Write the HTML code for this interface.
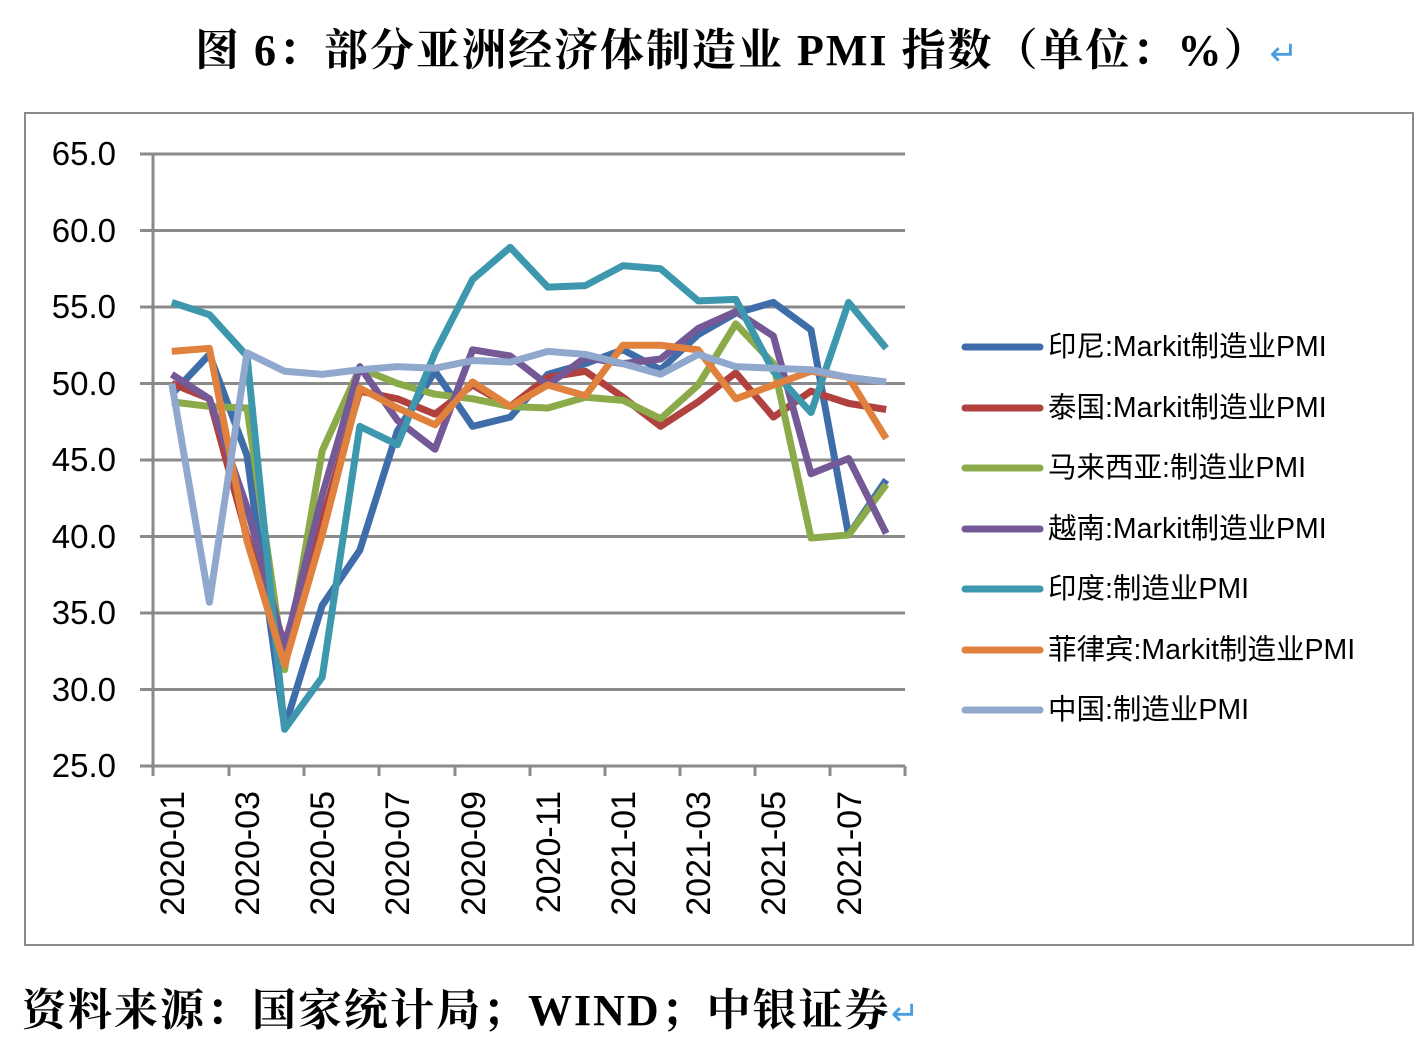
<!DOCTYPE html>
<html><head><meta charset="utf-8"><style>
body{margin:0;width:1420px;height:1042px;background:#fff;overflow:hidden;position:relative;font-family:"Liberation Sans","Noto Sans CJK SC",sans-serif}
.title{position:absolute;top:14px;left:195px;white-space:nowrap;font-family:"Liberation Serif","Noto Serif CJK SC",serif;font-weight:bold;font-size:44px;color:#000;letter-spacing:2px}
.foot{position:absolute;top:974px;left:22px;white-space:nowrap;font-family:"Liberation Serif","Noto Serif CJK SC",serif;font-weight:bold;font-size:44px;color:#000;letter-spacing:2px}
.arr{color:#4a9ee0;font-weight:normal;font-size:34px}
.box{position:absolute;left:24px;top:112px;width:1390px;height:834px;border:2px solid #8a8a8a;box-sizing:border-box}
</style></head><body>
<div class="title">图 6：部分亚洲经济体制造业 PMI 指数（单位：%）<span class="arr">↵</span></div>
<div class="box"></div>
<svg width="1420" height="1042" style="position:absolute;left:0;top:0">
<g stroke="#8a8a8a" stroke-width="3">
<line x1="140" y1="154" x2="905" y2="154"/><line x1="140" y1="230.5" x2="905" y2="230.5"/><line x1="140" y1="307" x2="905" y2="307"/><line x1="140" y1="383.5" x2="905" y2="383.5"/><line x1="140" y1="460" x2="905" y2="460"/><line x1="140" y1="536.5" x2="905" y2="536.5"/><line x1="140" y1="613" x2="905" y2="613"/><line x1="140" y1="689.5" x2="905" y2="689.5"/><line x1="140" y1="766" x2="905" y2="766"/>
<line x1="153" y1="154" x2="153" y2="776"/>
<line x1="229" y1="766" x2="229" y2="776"/><line x1="304" y1="766" x2="304" y2="776"/><line x1="379" y1="766" x2="379" y2="776"/><line x1="455" y1="766" x2="455" y2="776"/><line x1="530" y1="766" x2="530" y2="776"/><line x1="605" y1="766" x2="605" y2="776"/><line x1="680" y1="766" x2="680" y2="776"/><line x1="755" y1="766" x2="755" y2="776"/><line x1="830" y1="766" x2="830" y2="776"/><line x1="905" y1="766" x2="905" y2="776"/>
</g>
<g font-size="33" text-anchor="end" fill="#000" font-family="Liberation Sans,sans-serif">
<text x="116" y="165">65.0</text><text x="116" y="242">60.0</text><text x="116" y="318">55.0</text><text x="116" y="395">50.0</text><text x="116" y="471">45.0</text><text x="116" y="548">40.0</text><text x="116" y="624">35.0</text><text x="116" y="701">30.0</text><text x="116" y="777">25.0</text>
</g>
<g font-size="34" text-anchor="end" fill="#000" font-family="Liberation Sans,sans-serif">
<text transform="translate(184,791) rotate(-90)">2020-01</text>
<text transform="translate(259,791) rotate(-90)">2020-03</text>
<text transform="translate(334,791) rotate(-90)">2020-05</text>
<text transform="translate(409,791) rotate(-90)">2020-07</text>
<text transform="translate(485,791) rotate(-90)">2020-09</text>
<text transform="translate(560,791) rotate(-90)">2020-11</text>
<text transform="translate(635,791) rotate(-90)">2021-01</text>
<text transform="translate(710,791) rotate(-90)">2021-03</text>
<text transform="translate(785,791) rotate(-90)">2021-05</text>
<text transform="translate(861,791) rotate(-90)">2021-07</text>
</g>
<g transform="matrix(37.6 0 0 -15.3 171.8 1148.5)" fill="none" stroke-width="7" stroke-linejoin="round">
<polyline vector-effect="non-scaling-stroke" stroke="#3F6DAA" points="0,49.3 1,51.9 2,45.3 3,27.5 4,35.5 5,39.1 6,46.9 7,50.8 8,47.2 9,47.8 10,50.6 11,51.3 12,52.2 13,50.9 14,53.2 15,54.6 16,55.3 17,53.5 18,40.1 19,43.7"/>
<polyline vector-effect="non-scaling-stroke" stroke="#B0413E" points="0,50.0 1,49.0 2,40.0 3,33 4,41 5,49.5 6,49 7,48 8,49.9 9,48.5 10,50.4 11,50.8 12,49.1 13,47.2 14,48.8 15,50.7 16,47.8 17,49.5 18,48.7 19,48.3"/>
<polyline vector-effect="non-scaling-stroke" stroke="#8BAA4A" points="0,48.8 1,48.5 2,48.4 3,31.3 4,45.6 5,51.0 6,50.0 7,49.3 8,49.0 9,48.5 10,48.4 11,49.1 12,48.9 13,47.7 14,49.9 15,53.9 16,51.3 17,39.9 18,40.1 19,43.4"/>
<polyline vector-effect="non-scaling-stroke" stroke="#745996" points="0,50.6 1,49.0 2,41.9 3,32.7 4,42.7 5,51.1 6,47.6 7,45.7 8,52.2 9,51.8 10,49.9 11,51.7 12,51.3 13,51.6 14,53.6 15,54.7 16,53.1 17,44.1 18,45.1 19,40.2"/>
<polyline vector-effect="non-scaling-stroke" stroke="#3D98AE" points="0,55.3 1,54.5 2,51.8 3,27.4 4,30.8 5,47.2 6,46.0 7,52.0 8,56.8 9,58.9 10,56.3 11,56.4 12,57.7 13,57.5 14,55.4 15,55.5 16,50.8 17,48.1 18,55.3 19,52.3"/>
<polyline vector-effect="non-scaling-stroke" stroke="#E0823D" points="0,52.1 1,52.3 2,39.7 3,31.6 4,40.1 5,49.7 6,48.4 7,47.3 8,50.1 9,48.5 10,49.9 11,49.2 12,52.5 13,52.5 14,52.2 15,49.0 16,49.9 17,50.8 18,50.4 19,46.4"/>
<polyline vector-effect="non-scaling-stroke" stroke="#91A8CE" points="0,50.0 1,35.7 2,52.0 3,50.8 4,50.6 5,50.9 6,51.1 7,51.0 8,51.5 9,51.4 10,52.1 11,51.9 12,51.3 13,50.6 14,51.9 15,51.1 16,51.0 17,50.9 18,50.4 19,50.1"/>
</g>
<g stroke-width="7" stroke-linecap="round">
<line x1="965" y1="347" x2="1040" y2="347" stroke="#3F6DAA"/>
<line x1="965" y1="408" x2="1040" y2="408" stroke="#B0413E"/>
<line x1="965" y1="468" x2="1040" y2="468" stroke="#8BAA4A"/>
<line x1="965" y1="529" x2="1040" y2="529" stroke="#745996"/>
<line x1="965" y1="589" x2="1040" y2="589" stroke="#3D98AE"/>
<line x1="965" y1="650" x2="1040" y2="650" stroke="#E0823D"/>
<line x1="965" y1="710" x2="1040" y2="710" stroke="#91A8CE"/>
</g>
<g font-size="28.5" fill="#000" font-family="Liberation Sans,Noto Sans CJK SC,sans-serif">
<text x="1048" y="356">印尼:Markit制造业PMI</text>
<text x="1048" y="417">泰国:Markit制造业PMI</text>
<text x="1048" y="477">马来西亚:制造业PMI</text>
<text x="1048" y="538">越南:Markit制造业PMI</text>
<text x="1048" y="598">印度:制造业PMI</text>
<text x="1048" y="659">菲律宾:Markit制造业PMI</text>
<text x="1048" y="719">中国:制造业PMI</text>
</g>
</svg>
<div class="foot">资料来源：国家统计局；WIND；中银证券<span class="arr">↵</span></div>
</body></html>
